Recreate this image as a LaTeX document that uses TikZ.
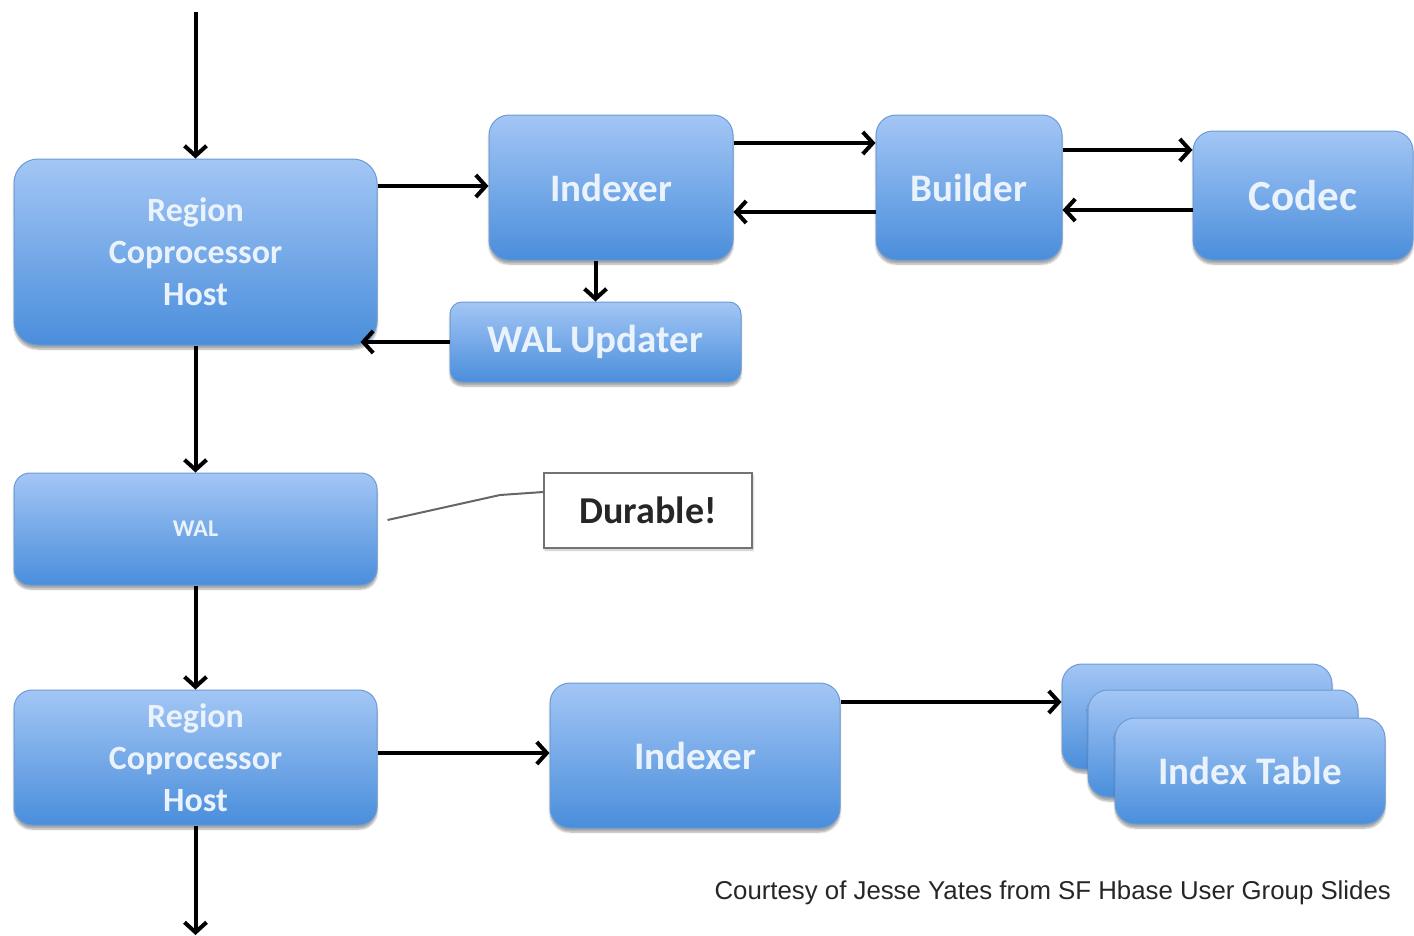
\documentclass[tikz,border=0pt]{standalone}
\usepackage{fontspec}
\setmainfont{Carlito}
\newfontfamily\notefont{Liberation Sans}
\usetikzlibrary{arrows.meta,shadows.blur}

\definecolor{boxtop}{HTML}{A3C6F5}
\definecolor{boxbottom}{HTML}{4A8EDB}
\definecolor{boxedge}{HTML}{6C9BD6}
\definecolor{boxtext}{HTML}{EAF2FC}

\begin{document}
\begin{tikzpicture}[x=1pt,y=-1pt,
    block/.style={rounded corners=20pt, draw=boxedge, line width=1pt,
        top color=boxtop, bottom color=boxbottom, text=boxtext,
        align=center, inner sep=0pt,
        font=\bfseries\fontsize{39}{48}\selectfont,
        blur shadow={shadow xshift=0pt, shadow yshift=-4pt,
            shadow blur steps=6, shadow opacity=35}},
    flow/.style={line width=4pt, -{Straight Barb[length=10pt,width=22pt,line width=4pt]}},
    note/.style={draw=black!55, fill=white, line width=1.5pt, inner sep=0pt,
        font=\bfseries\fontsize{38}{46}\selectfont, text=black!85,
        blur shadow={shadow xshift=1pt, shadow yshift=-2pt,
            shadow blur steps=4, shadow opacity=25}}]
    \useasboundingbox (0,0) rectangle (1414,935);

    % Upper row
    \node[block, minimum width=363, minimum height=186, rounded corners=24pt,
        font=\bfseries\fontsize{34}{42}\selectfont]
        (rch1) at (195.5,252) {Region\\Coprocessor\\Host};
    \node[block, minimum width=244, minimum height=145] (idx1) at (611,187.5) {Indexer};
    \node[block, minimum width=186, minimum height=145] (bld) at (969,187.5) {Builder};
    \node[block, minimum width=220, minimum height=129,
        font=\bfseries\fontsize{43}{52}\selectfont] (codec) at (1303,195.5) {Codec};
    \node[block, minimum width=291, minimum height=80, rounded corners=12pt]
        (walup) at (595.5,342) {WAL Updater};

    % Log
    \node[block, minimum width=363, minimum height=112, rounded corners=16pt,
        font=\bfseries\fontsize{24}{30}\selectfont] (wal) at (195.5,529) {WAL};
    \node[note, minimum width=208, minimum height=75] (durable) at (648,510.5) {Durable!};

    % Lower row
    \node[block, minimum width=363, minimum height=135, rounded corners=18pt,
        font=\bfseries\fontsize{34}{42}\selectfont]
        (rch2) at (195.5,757.5) {Region\\Coprocessor\\Host};
    \node[block, minimum width=290, minimum height=145] (idx2) at (695,755.5) {Indexer};
    \node[block, minimum width=270, minimum height=105] (tabback) at (1197,716.5) {};
    \node[block, minimum width=270, minimum height=107] (tabmid) at (1223,743.5) {};
    \node[block, minimum width=270, minimum height=106] (tabfront) at (1250,771) {Index Table};

    \node[anchor=base west, font=\notefont\fontsize{25.8}{30}\selectfont, text=black!85]
        (credit) at (711,899) {Courtesy of Jesse Yates from SF Hbase User Group Slides};

    % Free ends
    \coordinate (in) at (195.5,12);
    \coordinate (out) at (195.5,935);
    \coordinate (rch1corner) at ([xshift=-17pt]rch1.south east);

    % Connectors
    \draw[flow] (in) -- (rch1.north);
    \draw[flow] (rch1.east |- 0,186) -- (idx1.west |- 0,186);
    \draw[flow] (idx1.east |- 0,143) -- (bld.west |- 0,143);
    \draw[flow] (bld.west |- 0,212) -- (idx1.east |- 0,212);
    \draw[flow] (bld.east |- 0,150) -- (codec.west |- 0,150);
    \draw[flow] (codec.west |- 0,210) -- (bld.east |- 0,210);
    \draw[flow] (walup.north |- idx1.south) -- (walup.north);
    \draw[flow] (walup.west) -- (walup.west -| rch1corner);
    \draw[flow] (rch1.south) -- (wal.north);
    \draw[flow] (wal.south) -- (rch2.north);
    \draw[flow] (rch2.east |- 0,753) -- (idx2.west |- 0,753);
    \draw[flow] (idx2.east |- 0,702) -- (tabback.west |- 0,702);
    \draw[flow] (rch2.south) -- (out);
    \draw[black!60, line width=2pt] ([xshift=10pt,yshift=9pt]wal.east) -- (500,495)
        -- (durable.west |- 0,492);

\end{tikzpicture}
\end{document}
